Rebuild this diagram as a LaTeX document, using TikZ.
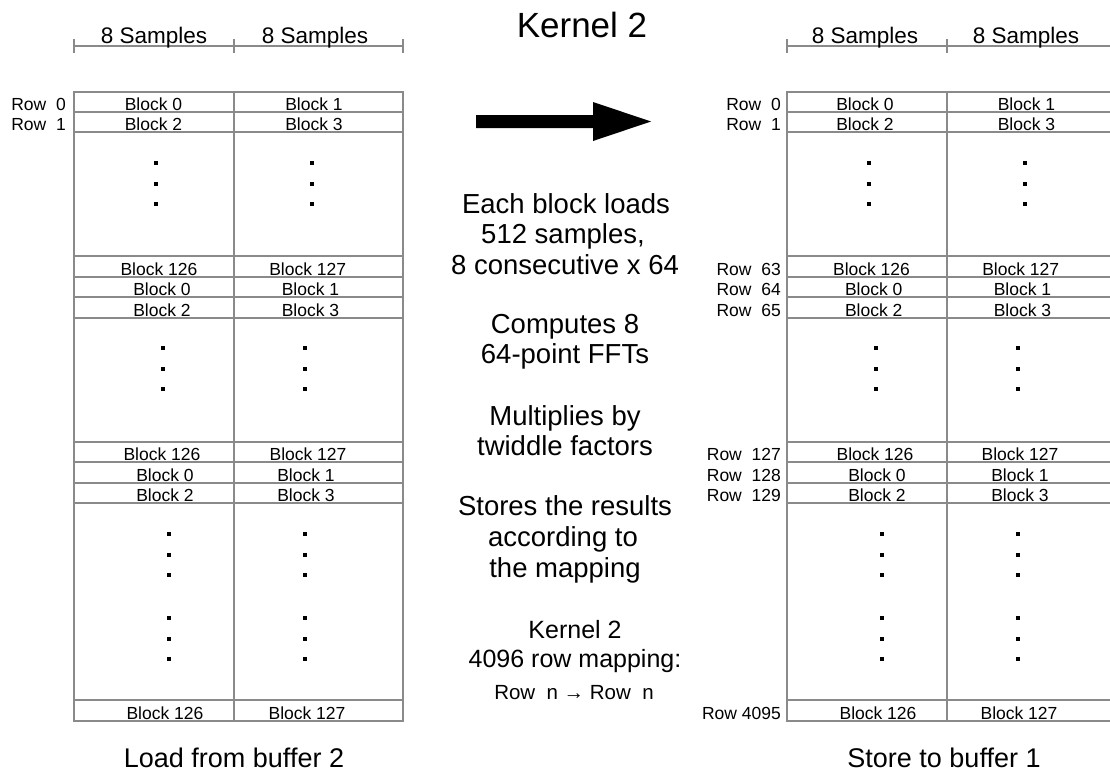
\documentclass[tikz,border=0pt]{standalone}
\usepackage{fontspec}
\setmainfont{Liberation Sans}
\definecolor{gridgray}{RGB}{138,138,138}
\tikzset{
  tablegrid/.style={draw=gridgray, line width=1.3pt},
  cell/.style={anchor=base, inner sep=0pt, font=\fontsize{17.5}{20}\selectfont},
  rowlbl/.style={anchor=base east, inner sep=0pt, font=\fontsize{17.5}{20}\selectfont},
  samplelbl/.style={anchor=base, inner sep=0pt, font=\fontsize{22.5}{26}\selectfont},
  midtext/.style={anchor=base, inner sep=0pt, font=\fontsize{27.5}{31}\selectfont},
  maptext/.style={anchor=base, inner sep=0pt, font=\fontsize{25}{29}\selectfont},
  caption/.style={anchor=base, inner sep=0pt, font=\fontsize{27}{31}\selectfont},
}
\begin{document}
\begin{tikzpicture}[x=1pt, y=-1pt]
  \useasboundingbox (0,0) rectangle (1110,774);
  \fill[white] (0,0) rectangle (1110,774);
  \clip (0,0) rectangle (1110,774);

  % ---- title and the block arrow ----
  \node[anchor=base, inner sep=0pt, font=\fontsize{35}{40}\selectfont] (title) at (582,37) {Kernel 2};
  \coordinate (arrtail) at (476,121.5);
  \coordinate (arrtip) at (651,121.5);
  \fill (arrtail) ++(0,-6.5) -- ++(117,0) -- ++(0,-13) -- (arrtip)
        -- ++(-58,19.5) -- ++(0,-13) -- ++(-117,0) -- cycle;

  % ---- sample-width scale bars ----
  \draw[tablegrid] (74,46) -- (403,46);
  \foreach \x in {74,234,403} \draw[tablegrid] (\x,39) -- (\x,53);
  \draw[tablegrid] (787,46) -- (1116,46);
  \foreach \x in {787,947,1116} \draw[tablegrid] (\x,39) -- (\x,53);
  \node[samplelbl] (sL1) at (154,43) {8 Samples};
  \node[samplelbl] (sL2) at (315,43) {8 Samples};
  \node[samplelbl] (sR1) at (865,43) {8 Samples};
  \node[samplelbl] (sR2) at (1026,43) {8 Samples};

  % ---- source buffer table ----
  \draw[tablegrid] (74,92) rectangle (403,721);
  \draw[tablegrid] (234,92) -- (234,721);
  \foreach \y in {112,132,256,277,297,318,442,462,483,503,700}
    \draw[tablegrid] (74,\y) -- (403,\y);

  % ---- destination buffer table ----
  \draw[tablegrid] (787,92) rectangle (1116,721);
  \draw[tablegrid] (947,92) -- (947,721);
  \foreach \y in {112,132,256,277,297,318,442,462,483,503,700}
    \draw[tablegrid] (787,\y) -- (1116,\y);

  % ---- block labels, source table ----
  \foreach \n/\x/\y/\t in {
      1/153.5/110/0, 2/314/110/1, 3/153.5/130/2, 4/314/130/3,
      5/159/275/126, 6/307.7/275/127, 7/162/295/0, 8/310.5/295/1, 9/162/316/2, 10/310.5/316/3,
      11/162/460/126, 12/308/460/127, 13/165/481/0, 14/306/481/1, 15/165/501/2, 16/306/501/3,
      17/165/719/126, 18/307/719/127}
    \node[cell] (Lb\n) at (\x,\y) {Block \t};

  % ---- block labels, destination table ----
  \foreach \n/\x/\y/\t in {
      1/865/110/0, 2/1026.5/110/1, 3/865/130/2, 4/1026.5/130/3,
      5/871.5/275/126, 6/1020.7/275/127, 7/873.7/295/0, 8/1022.5/295/1, 9/873.7/316/2, 10/1022.5/316/3,
      11/875/460/126, 12/1020/460/127, 13/877/481/0, 14/1020/481/1, 15/877/501/2, 16/1020/501/3,
      17/878/719/126, 18/1019/719/127}
    \node[cell] (Rb\n) at (\x,\y) {Block \t};

  % ---- row labels ----
  \node[rowlbl] (Lr0) at (66,110) {Row\ \ 0};
  \node[rowlbl] (Lr1) at (66,130) {Row\ \ 1};
  \foreach \y/\t in {110/0, 130/1, 275/63, 295/64, 316/65, 460/127, 481/128, 501/129}
    \node[rowlbl] (Rr\t) at (781,\y) {Row\ \ \t};
  \node[rowlbl] (Rr4095) at (781,719) {Row\ 4095};

  % ---- ellipsis dots ----
  \foreach \x in {156,311.7,869,1024.7}
    \foreach \y in {163,184,204}
      \fill (\x-2,\y-2) rectangle (\x+2,\y+2);
  \foreach \x in {163,305,876,1018}
    \foreach \y in {348,369,389}
      \fill (\x-2,\y-2) rectangle (\x+2,\y+2);
  \foreach \x in {169,305,882,1018}
    \foreach \y in {534,555,575,618,639,659}
      \fill (\x-2,\y-2) rectangle (\x+2,\y+2);

  % ---- kernel description ----
  \node[midtext] (d1) at (566,213) {Each block loads};
  \node[midtext] (d2) at (563,243.5) {512 samples,};
  \node[midtext] (d3) at (565,274.5) {8 consecutive x 64};
  \node[midtext] (d4) at (565,333) {Computes 8};
  \node[midtext] (d5) at (565,363) {64-point FFTs};
  \node[midtext] (d6) at (565,425) {Multiplies by};
  \node[midtext] (d7) at (565,455) {twiddle factors};
  \node[midtext] (d8) at (565,515.5) {Stores the results};
  \node[midtext] (d9) at (563,546) {according to};
  \node[midtext] (d10) at (565,577) {the mapping};

  \node[maptext] (m1) at (575,638) {Kernel 2};
  \node[maptext] (m2) at (575,667) {4096 row mapping:};
  \node[anchor=base, inner sep=0pt, font=\fontsize{20.5}{24}\selectfont] (m3) at (574,699) {Row\ \ n → Row\ \ n};

  % ---- captions ----
  \node[caption] (capL) at (234,767) {Load from buffer 2};
  \node[caption] (capR) at (944,767) {Store to buffer 1};
\end{tikzpicture}
\end{document}
